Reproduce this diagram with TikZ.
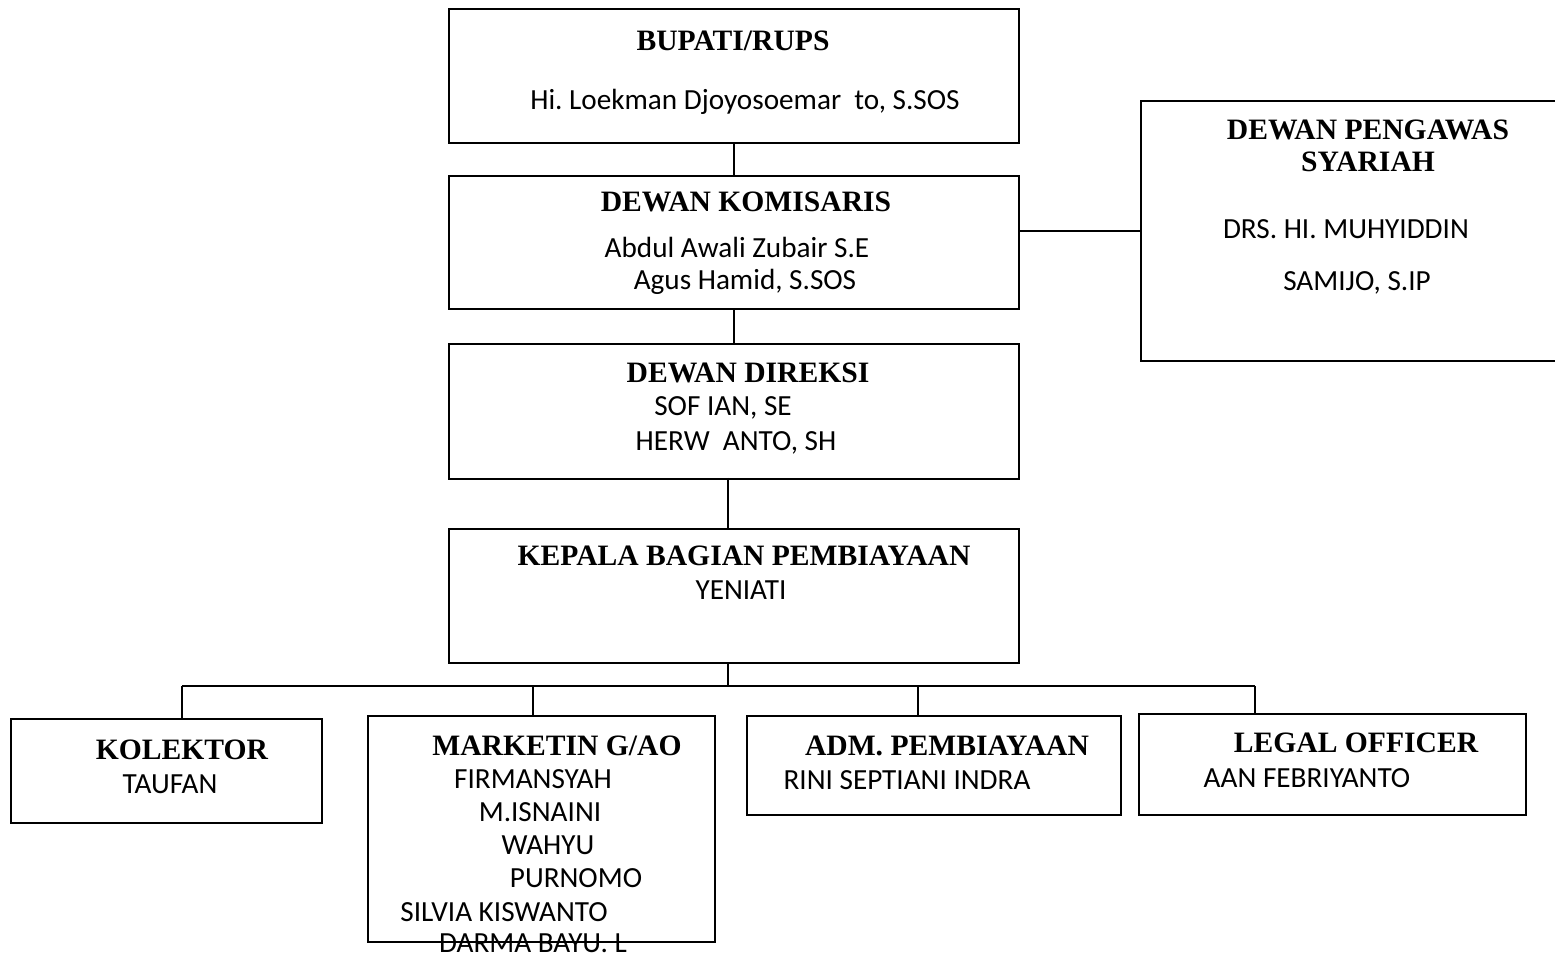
\documentclass[tikz,border=0pt]{standalone}
\usepackage{fontspec}
\setmainfont{Liberation Serif}
\newfontfamily\namefont{Carlito}
\usetikzlibrary{shapes,arrows,positioning}
\frenchspacing

\begin{document}
\begin{tikzpicture}[x=0.5pt,y=-0.5pt,
  unit/.style={draw,line width=1pt,anchor=north west,inner sep=0pt},
  head/.style={anchor=base,inner sep=0pt,font=\fontsize{14.8}{17}\selectfont\bfseries},
  person/.style={anchor=base,inner sep=0pt,font=\fontsize{14.6}{17}\selectfont\namefont},
  link/.style={line width=0.8pt}]
\useasboundingbox (0,0) rectangle (1555,957);
% Draw the boxes
\node[unit,minimum width=285pt,minimum height=67pt] (bupati) at (448,8) {};
\node[unit,minimum width=285pt,minimum height=66.5pt] (komisaris) at (448,175) {};
\node[unit,minimum width=215pt,minimum height=130pt] (dps) at (1140,100) {};
\node[unit,minimum width=285pt,minimum height=67.5pt] (direksi) at (448,343) {};
\node[unit,minimum width=285pt,minimum height=67pt] (kepala) at (448,528) {};
\node[unit,minimum width=155.5pt,minimum height=52pt] (kolektor) at (10,718) {};
\node[unit,minimum width=173.5pt,minimum height=113pt] (marketing) at (367,715) {};
\node[unit,minimum width=187pt,minimum height=49.5pt] (adm) at (746,715) {};
\node[unit,minimum width=193.5pt,minimum height=50.5pt] (legal) at (1138,713) {};
% Draw the lines between the boxes
\draw[link] (bupati.south) -- (komisaris.north);
\draw[link] (dps.west) -- (dps.west -| komisaris.east);
\draw[link] (komisaris.south) -- (direksi.north);
\coordinate (mid) at (728,478);
\draw[link] (mid) -- (mid |- kepala.north);
\coordinate (bus) at (728,686);
\coordinate (dKol) at (182,686);
\coordinate (dMkt) at (533,686);
\coordinate (dAdm) at (918,686);
\coordinate (dLeg) at (1255,686);
\draw[link] (bus |- kepala.south) -- (bus);
\draw[link] (dKol) -- (dLeg);
\draw[link] (dKol) -- (dKol |- kolektor.north);
\draw[link] (dMkt) -- (dMkt |- marketing.north);
\draw[link] (dAdm) -- (dAdm |- adm.north);
\draw[link] (dLeg) -- (dLeg |- legal.north);
% Write the titles and names
\node[head] (tBupati) at (733,51) {BUPATI/RUPS};
\node[person] (nBupati) at (745,110) {Hi. Loekman Djoyosoemar~~to, S.SOS};
\node[head] (tKomisaris) at (746,212) {DEWAN KOMISARIS};
\node[person] (nKomisaris1) at (737,258) {Abdul Awali Zubair S.E};
\node[person] (nKomisaris2) at (745,290) {Agus Hamid, S.SOS};
\node[head] (tDps1) at (1368,140) {DEWAN PENGAWAS};
\node[head] (tDps2) at (1368,172) {SYARIAH};
\node[person] (nDps1) at (1346,239) {DRS. HI. MUHYIDDIN};
\node[person] (nDps2) at (1357,291) {SAMIJO, S.IP};
\node[head] (tDireksi) at (748,383) {DEWAN DIREKSI};
\node[person] (nDireksi1) at (723,416) {SOF IAN, SE};
\node[person] (nDireksi2) at (736,451) {HERW~~ANTO, SH};
\node[head] (tKepala) at (744,566) {KEPALA BAGIAN PEMBIAYAAN};
\node[person] (nKepala) at (741,600) {YENIATI};
\node[head] (tKolektor) at (182,759) {KOLEKTOR};
\node[person] (nKolektor) at (170,793) {TAUFAN};
\node[head] (tMarketing) at (557,755) {MARKETIN G/AO};
\node[person] (nMarketing1) at (533,788) {FIRMANSYAH};
\node[person] (nMarketing2) at (540,821) {M.ISNAINI};
\node[person] (nMarketing3) at (548,854) {WAHYU};
\node[person] (nMarketing4) at (576,887) {PURNOMO};
\node[person] (nMarketing5) at (504,921) {SILVIA KISWANTO};
\node[person] (nMarketing6) at (533,952) {DARMA BAYU. L};
\node[head] (tAdm) at (947,755) {ADM. PEMBIAYAAN};
\node[person] (nAdm) at (907,789) {RINI SEPTIANI INDRA};
\node[head] (tLegal) at (1356,752) {LEGAL OFFICER};
\node[person] (nLegal) at (1307,787) {AAN FEBRIYANTO};
\end{tikzpicture}
\end{document}
